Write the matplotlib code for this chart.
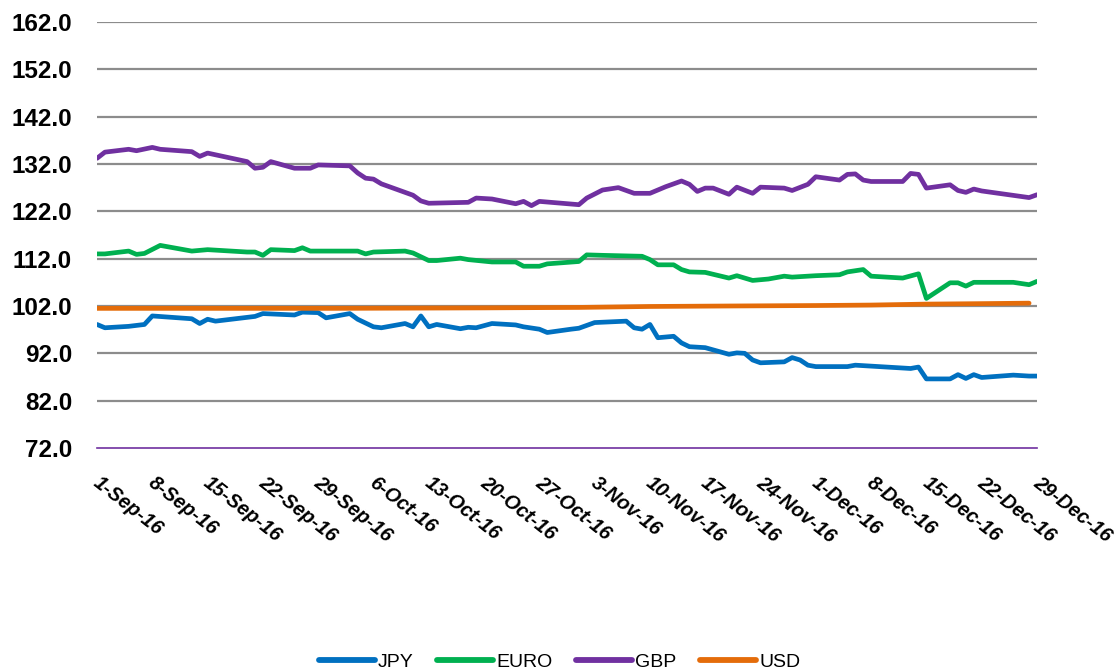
import pandas as pd
import matplotlib.pyplot as plt
from matplotlib.transforms import ScaledTranslation

# values (vertex dates + levels)
jpy_dates = ['2016-09-01', '2016-09-02', '2016-09-05', '2016-09-07', '2016-09-08', '2016-09-13',
             '2016-09-14', '2016-09-15', '2016-09-16', '2016-09-18', '2016-09-21', '2016-09-22',
             '2016-09-26', '2016-09-27', '2016-09-29', '2016-09-30', '2016-10-03', '2016-10-04',
             '2016-10-06', '2016-10-07', '2016-10-10', '2016-10-11', '2016-10-12', '2016-10-13',
             '2016-10-14', '2016-10-17', '2016-10-18', '2016-10-19', '2016-10-21', '2016-10-24',
             '2016-10-25', '2016-10-27', '2016-10-28', '2016-10-31', '2016-11-01', '2016-11-03',
             '2016-11-07', '2016-11-08', '2016-11-09', '2016-11-10', '2016-11-11', '2016-11-13',
             '2016-11-14', '2016-11-15', '2016-11-17', '2016-11-20', '2016-11-21', '2016-11-22',
             '2016-11-23', '2016-11-24', '2016-11-27', '2016-11-28', '2016-11-29', '2016-11-30',
             '2016-12-01', '2016-12-05', '2016-12-06', '2016-12-08', '2016-12-13', '2016-12-14',
             '2016-12-15', '2016-12-18', '2016-12-19', '2016-12-20', '2016-12-21', '2016-12-22',
             '2016-12-26', '2016-12-28', '2016-12-29']
jpy_vals = [98.1, 97.4, 97.7, 98.1, 99.9, 99.3,
            98.3, 99.2, 98.8, 99.2, 99.8, 100.4,
            100.1, 100.7, 100.6, 99.5, 100.4, 99.2,
            97.6, 97.4, 98.3, 97.6, 99.9, 97.6,
            98.1, 97.2, 97.5, 97.4, 98.3, 98.0,
            97.6, 97.1, 96.4, 97.1, 97.3, 98.5,
            98.8, 97.4, 97.1, 98.1, 95.3, 95.6,
            94.2, 93.4, 93.2, 91.8, 92.1, 92.0,
            90.6, 90.0, 90.2, 91.1, 90.6, 89.5,
            89.2, 89.2, 89.5, 89.3, 88.8, 89.1,
            86.6, 86.6, 87.5, 86.7, 87.5, 86.9,
            87.4, 87.2, 87.2]

euro_dates = ['2016-09-01', '2016-09-02', '2016-09-05', '2016-09-06', '2016-09-07', '2016-09-09',
              '2016-09-13', '2016-09-15', '2016-09-20', '2016-09-21', '2016-09-22', '2016-09-23',
              '2016-09-26', '2016-09-27', '2016-09-28', '2016-10-04', '2016-10-05', '2016-10-06',
              '2016-10-10', '2016-10-11', '2016-10-13', '2016-10-14', '2016-10-17', '2016-10-18',
              '2016-10-21', '2016-10-24', '2016-10-25', '2016-10-27', '2016-10-28', '2016-11-01',
              '2016-11-02', '2016-11-04', '2016-11-09', '2016-11-10', '2016-11-11', '2016-11-13',
              '2016-11-14', '2016-11-15', '2016-11-17', '2016-11-20', '2016-11-21', '2016-11-23',
              '2016-11-25', '2016-11-27', '2016-11-28', '2016-12-01', '2016-12-04', '2016-12-05',
              '2016-12-07', '2016-12-08', '2016-12-12', '2016-12-14', '2016-12-15', '2016-12-18',
              '2016-12-19', '2016-12-20', '2016-12-21', '2016-12-26', '2016-12-28', '2016-12-29']
euro_vals = [113.0, 113.0, 113.6, 112.9, 113.1, 114.8,
             113.6, 113.9, 113.4, 113.4, 112.7, 113.9,
             113.7, 114.3, 113.6, 113.6, 113.0, 113.4,
             113.6, 113.2, 111.6, 111.6, 112.1, 111.8,
             111.3, 111.3, 110.4, 110.4, 110.9, 111.4,
             112.8, 112.7, 112.5, 111.8, 110.7, 110.7,
             109.7, 109.2, 109.1, 107.9, 108.4, 107.4,
             107.7, 108.3, 108.1, 108.4, 108.6, 109.2,
             109.7, 108.3, 107.9, 108.8, 103.6, 106.9,
             106.9, 106.2, 107.0, 107.0, 106.5, 107.2]

gbp_dates = ['2016-09-01', '2016-09-02', '2016-09-05', '2016-09-06', '2016-09-08', '2016-09-09',
             '2016-09-13', '2016-09-14', '2016-09-15', '2016-09-20', '2016-09-21', '2016-09-22',
             '2016-09-23', '2016-09-26', '2016-09-28', '2016-09-29', '2016-10-03', '2016-10-04',
             '2016-10-05', '2016-10-06', '2016-10-07', '2016-10-10', '2016-10-11', '2016-10-12',
             '2016-10-13', '2016-10-18', '2016-10-19', '2016-10-21', '2016-10-24', '2016-10-25',
             '2016-10-26', '2016-10-27', '2016-11-01', '2016-11-02', '2016-11-04', '2016-11-06',
             '2016-11-08', '2016-11-10', '2016-11-12', '2016-11-14', '2016-11-15', '2016-11-16',
             '2016-11-17', '2016-11-18', '2016-11-20', '2016-11-21', '2016-11-23', '2016-11-24',
             '2016-11-27', '2016-11-28', '2016-11-30', '2016-12-01', '2016-12-04', '2016-12-05',
             '2016-12-06', '2016-12-07', '2016-12-08', '2016-12-12', '2016-12-13', '2016-12-14',
             '2016-12-15', '2016-12-18', '2016-12-19', '2016-12-20', '2016-12-21', '2016-12-22',
             '2016-12-28', '2016-12-29']
gbp_vals = [133.2, 134.5, 135.1, 134.8, 135.5, 135.1,
            134.6, 133.6, 134.3, 132.5, 131.1, 131.3,
            132.5, 131.1, 131.1, 131.8, 131.6, 130.1,
            129.0, 128.8, 127.8, 126.0, 125.4, 124.2,
            123.7, 123.9, 124.8, 124.6, 123.6, 124.1,
            123.2, 124.1, 123.4, 124.8, 126.5, 127.0,
            125.8, 125.8, 127.2, 128.4, 127.7, 126.2,
            126.9, 126.9, 125.6, 127.1, 125.8, 127.1,
            126.9, 126.4, 127.7, 129.3, 128.6, 129.8,
            129.9, 128.6, 128.3, 128.3, 130.0, 129.8,
            126.9, 127.6, 126.4, 126.0, 126.7, 126.3,
            124.9, 125.5]

usd_dates = ['2016-09-01', '2016-10-01', '2016-10-20', '2016-11-01', '2016-11-10', '2016-11-20',
             '2016-12-01', '2016-12-08', '2016-12-15', '2016-12-22', '2016-12-28']
usd_vals = [101.5, 101.5, 101.6, 101.7, 101.9, 102.0,
            102.1, 102.2, 102.4, 102.5, 102.6]

series = [('JPY', jpy_dates, jpy_vals, '#0070C0'),
          ('EURO', euro_dates, euro_vals, '#00B050'),
          ('GBP', gbp_dates, gbp_vals, '#7030A0'),
          ('USD', usd_dates, usd_vals, '#E46C0A')]

ytick_vals = [72, 82, 92, 102, 112, 122, 132, 142, 152, 162]
xtick_dates = pd.date_range('2016-09-01', '2016-12-29', freq='7D')

plt.rcParams['font.family'] = ['Liberation Sans', 'DejaVu Sans']

fig = plt.figure(figsize=(11.19, 6.71), dpi=100)
ax = fig.add_axes([0.0867, 0.3323, 0.84, 0.635])

for name, d, v, c in series:
    ax.plot(pd.to_datetime(d), v, color=c, linewidth=3.4, label=name,
            solid_capstyle='round', solid_joinstyle='round', zorder=3)

ax.set_ylim(72, 162)
ax.set_xlim(pd.Timestamp('2016-09-01'), pd.Timestamp('2016-12-29'))
ax.set_yticks(ytick_vals)
ax.set_yticklabels(['%.1f' % t for t in ytick_vals], fontsize=17.5, fontweight='bold')
for t in ytick_vals[1:]:
    ax.axhline(t, color='#8c8c8c', linewidth=1.6, zorder=1)

ax.set_xticks(xtick_dates)
ax.set_xticklabels([f'{d.day}-{d.strftime("%b")}-16' for d in xtick_dates],
                   rotation=-38, ha='left', va='top', rotation_mode='anchor',
                   fontsize=14.3, fontweight='bold', fontstyle='italic')
ax.tick_params(axis='both', length=0)
ax.tick_params(axis='x', pad=18)
ax.tick_params(axis='y', pad=18)
shift = ScaledTranslation(3 / 72, 0, fig.dpi_scale_trans)
for lab in ax.get_xticklabels():
    lab.set_transform(lab.get_transform() + shift)

for s in ['top', 'right', 'left']:
    ax.spines[s].set_visible(False)
ax.spines['bottom'].set_color('#7030A0')
ax.spines['bottom'].set_linewidth(1.2)

leg = fig.legend(loc='center', bbox_to_anchor=(0.5, 0.013), ncol=4, frameon=False,
                 fontsize=14, handlelength=2.9, columnspacing=1.2, handletextpad=0.15)
for h in leg.get_lines():
    h.set_linewidth(4.2)

fig.savefig('out.png', dpi=100)
